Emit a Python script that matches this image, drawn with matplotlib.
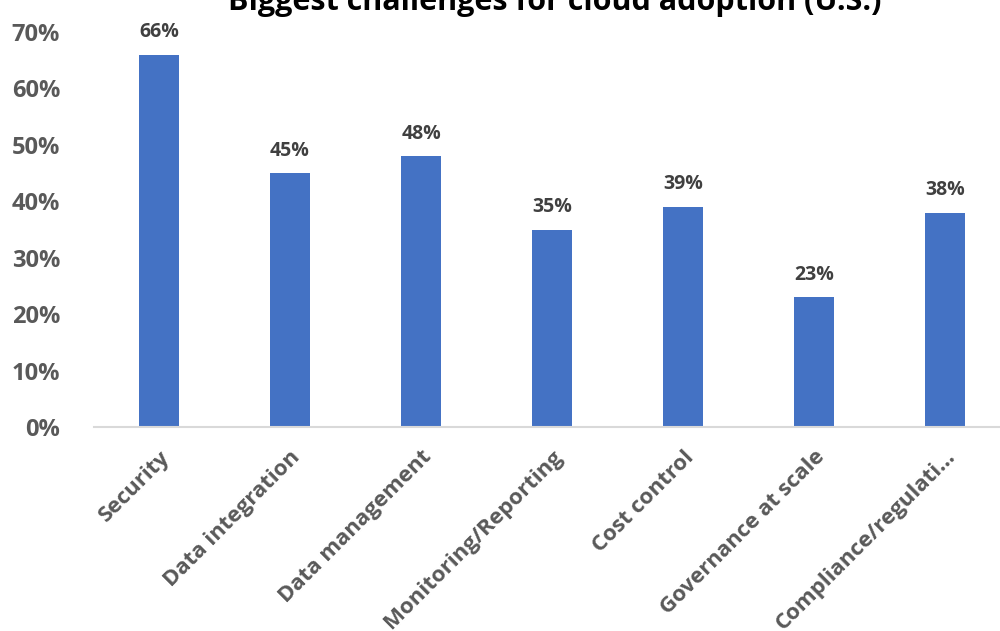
import matplotlib.pyplot as plt

categories = ['Security', 'Data integration', 'Data management', 'Monitoring/Reporting',
              'Cost control', 'Governance at scale', 'Compliance/regulati\u2026']
values = [0.66, 0.45, 0.48, 0.35, 0.39, 0.23, 0.38]
yticks = [0, 0.1, 0.2, 0.3, 0.4, 0.5, 0.6, 0.7]

plt.rcParams['font.family'] = ['Open Sans', 'DejaVu Sans']

fig = plt.figure(figsize=(10, 6.31), dpi=100)
ax = fig.add_axes([0.0935, 1 - 427 / 631, 0.917, (427 - 32) / 631])

x = range(len(categories))
bars = ax.bar(x, values, width=0.31, color='#4472C4')
for b, v in zip(bars, values):
    ax.annotate(f'{v:.0%}', (b.get_x() + b.get_width() / 2, v), xytext=(0, 9),
                textcoords='offset points', ha='center', va='bottom',
                fontsize=14, fontweight='bold', color='#404040')

ax.set_xlim(-0.5, len(categories) - 0.5)
ax.set_ylim(0, 0.7)
ax.set_yticks(yticks)
ax.set_yticklabels([f'{t:.0%}' for t in yticks], fontsize=17, fontweight='bold', color='#595959')
ax.set_xticks(list(x))
ax.set_xticklabels(categories, rotation=45, ha='right', rotation_mode='anchor',
                   fontsize=16, fontweight='bold', color='#595959')
ax.tick_params(axis='both', length=0)
ax.tick_params(axis='x', pad=14)
ax.tick_params(axis='y', pad=24)
for s in ['top', 'right', 'left']:
    ax.spines[s].set_visible(False)
ax.spines['bottom'].set_color('#D9D9D9')
ax.spines['bottom'].set_linewidth(1.5)
ax.spines['bottom'].set_clip_on(False)

fig.text(0.555, 1 - 10 / 631, 'Biggest challenges for cloud adoption (U.S.)', ha='center',
         va='baseline', fontsize=22, fontweight='bold', color='black')

fig.savefig('out.png', dpi=100)
